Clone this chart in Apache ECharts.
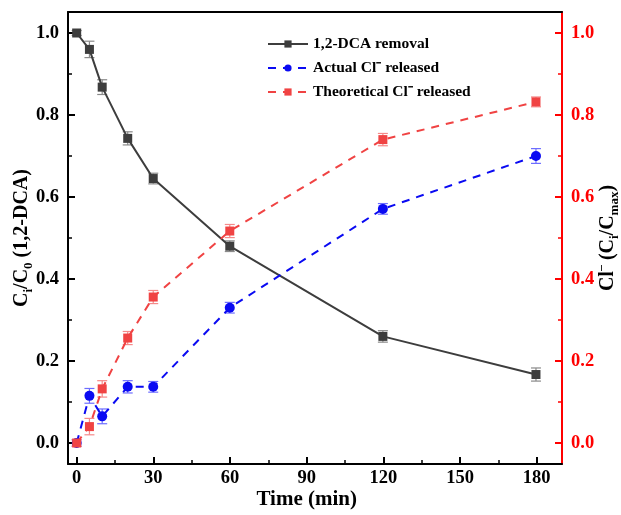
<!DOCTYPE html>
<html>
<head>
<meta charset="utf-8">
<script src="https://cdn.jsdelivr.net/npm/echarts@6/dist/echarts.min.js"></script>
<style>
html,body{margin:0;padding:0;background:#fff;}
#chart{width:621px;height:515px;}
</style>
</head>
<body>
<div id="chart"></div>
<script>
// ---- data ----
const times = [0, 5, 10, 20, 30, 60, 120, 180];
const dcaRemoval = [1.0, 0.96, 0.868, 0.743, 0.645, 0.48, 0.26, 0.167];
const dcaErr = [0.006, 0.02, 0.018, 0.016, 0.013, 0.013, 0.014, 0.016];
const actualCl = [0.0, 0.115, 0.065, 0.137, 0.137, 0.33, 0.571, 0.70];
const actualErr = [0.008, 0.018, 0.018, 0.015, 0.013, 0.013, 0.013, 0.018];
const theoCl = [0.0, 0.04, 0.132, 0.256, 0.356, 0.517, 0.74, 0.832];
const theoErr = [0.008, 0.02, 0.02, 0.016, 0.016, 0.016, 0.015, 0.012];
const xTicks = [0, 30, 60, 90, 120, 150, 180];
const yTicks = [0.0, 0.2, 0.4, 0.6, 0.8, 1.0];
const seriesNames = ['1,2-DCA removal', 'Actual Cl\u207B released', 'Theoretical Cl\u207B released'];

const FONT = 'Liberation Serif';
const RED_AXIS = '#ff0000';
const C_DCA = '#3d3d3d', C_BLUE = '#0a0af2', C_RED = '#f04343';

const chart = echarts.init(document.getElementById('chart'), null, {renderer: 'canvas'});

function pairs(vals) { return times.map((t, i) => [t, vals[i]]); }
function errPairs(vals, errs) { return times.map((t, i) => [t, vals[i], errs[i]]); }

function errBar(color) {
  return function (params, api) {
    const x = api.value(0), y = api.value(1), e = api.value(2);
    const top = api.coord([x, y + e]);
    const bot = api.coord([x, y - e]);
    const w = 5;
    const st = {stroke: color, lineWidth: 1.2};
    return {
      type: 'group',
      children: [
        {type: 'line', shape: {x1: top[0], y1: top[1], x2: bot[0], y2: bot[1]}, style: st},
        {type: 'line', shape: {x1: top[0] - w, y1: top[1], x2: top[0] + w, y2: top[1]}, style: st},
        {type: 'line', shape: {x1: bot[0] - w, y1: bot[1], x2: bot[0] + w, y2: bot[1]}, style: st}
      ]
    };
  };
}

const labelStyle = {fontFamily: FONT, fontWeight: 'bold', fontSize: 18.5, color: '#000'};
const xMin = -3.4, xMax = 190.2, yMin = -0.05, yMax = 1.05;

function frameAxis(gridIndex, min, max, position, color) {
  return {gridIndex: gridIndex, type: 'value', min: min, max: max, position: position,
    axisLine: {onZero: false, lineStyle: {color: color, width: 2}}, axisTick: {show: false},
    axisLabel: {show: false}, splitLine: {show: false}};
}
function hiddenAxis(gridIndex, min, max, position) {
  return {gridIndex: gridIndex, type: 'value', min: min, max: max, position: position, show: false,
    axisLine: {onZero: false}, splitLine: {show: false}};
}
function tickYAxis(position, color) {
  return {gridIndex: 1, type: 'value', min: yTicks[0], max: yTicks[yTicks.length - 1],
    interval: yTicks[1] - yTicks[0], position: position,
    axisLine: {show: false, onZero: false},
    axisTick: {inside: true, length: 7, lineStyle: {color: color, width: 2}},
    minorTick: {show: true, splitNumber: 2, length: 4, lineStyle: {color: color, width: 1.5}},
    axisLabel: Object.assign({}, labelStyle, {margin: 9, color: color, formatter: v => v.toFixed(1)}),
    splitLine: {show: false}};
}

const nameRich = {
  m: {fontFamily: FONT, fontWeight: 'bold', fontSize: 20, color: '#000', lineHeight: 26},
  s: {fontFamily: FONT, fontWeight: 'bold', fontSize: 13, color: '#000', lineHeight: 13, verticalAlign: 'bottom'},
  p: {fontFamily: FONT, fontWeight: 'bold', fontSize: 12, color: '#000', lineHeight: 12, verticalAlign: 'top'}
};

const yLeft = Object.assign(tickYAxis('left', '#000'), {
  name: '{m|C}{s|i}{m|/C}{s|0}{m| (1,2-DCA)}',
  nameLocation: 'middle', nameRotate: 90, nameGap: 33, nameMoveOverlap: false,
  nameTextStyle: {rich: nameRich}
});
const yRight = Object.assign(tickYAxis('right', RED_AXIS), {
  name: '{m|Cl}{p|\u2013}{m| (C}{s|i}{m|/C}{s|max}{m|)}',
  nameLocation: 'middle', nameRotate: 90, nameGap: 33, nameMoveOverlap: false,
  nameTextStyle: {rich: nameRich}
});

const gridCommon = {containLabel: false, outerBoundsMode: 'none'};

const option = {
  animation: false,
  backgroundColor: '#fff',
  grid: [
    Object.assign({left: 68, right: 59, top: 12, bottom: 51}, gridCommon),      // frame
    Object.assign({left: 68, right: 59, top: 33, bottom: 72}, gridCommon),      // data + y ticks
    Object.assign({left: 76.7, right: 84.3, top: 12, bottom: 51}, gridCommon)   // x ticks
  ],
  legend: {
    data: seriesNames,
    orient: 'vertical',
    left: 262,
    top: 31,
    itemWidth: 40,
    itemHeight: 9,
    itemGap: 8,
    textStyle: {fontFamily: FONT, fontWeight: 'bold', fontSize: 15.5, color: '#000'}
  },
  xAxis: [
    frameAxis(0, xMin, xMax, 'bottom', '#000'),
    frameAxis(0, xMin, xMax, 'top', '#000'),
    hiddenAxis(1, xMin, xMax, 'bottom'),
    {gridIndex: 2, type: 'value', min: xTicks[0], max: xTicks[xTicks.length - 1],
     interval: xTicks[1] - xTicks[0], position: 'bottom',
     axisLine: {show: false, onZero: false},
     axisTick: {inside: true, length: 7, lineStyle: {color: '#000', width: 2}},
     minorTick: {show: true, splitNumber: 2, length: 4, lineStyle: {color: '#000', width: 1.5}},
     axisLabel: Object.assign({margin: 5}, labelStyle),
     splitLine: {show: false},
     name: 'Time (min)', nameLocation: 'middle', nameGap: 25, nameMoveOverlap: false,
     nameTextStyle: {fontFamily: FONT, fontWeight: 'bold', fontSize: 21, color: '#000'}}
  ],
  yAxis: [
    frameAxis(0, yMin, yMax, 'left', '#000'),
    frameAxis(0, yMin, yMax, 'right', RED_AXIS),
    yLeft,
    yRight,
    hiddenAxis(2, yMin, yMax, 'left')
  ],
  series: [
    {type: 'custom', name: 'errDca', xAxisIndex: 2, yAxisIndex: 2, z: 1, silent: true,
     renderItem: errBar('#8a8a8a'), data: errPairs(dcaRemoval, dcaErr), clip: false},
    {type: 'custom', name: 'errActual', xAxisIndex: 2, yAxisIndex: 3, z: 1, silent: true,
     renderItem: errBar('#6d6dff'), data: errPairs(actualCl, actualErr), clip: false},
    {type: 'custom', name: 'errTheo', xAxisIndex: 2, yAxisIndex: 3, z: 1, silent: true,
     renderItem: errBar('#f58a8a'), data: errPairs(theoCl, theoErr), clip: false},
    {type: 'line', name: seriesNames[0], xAxisIndex: 2, yAxisIndex: 2, z: 3, clip: false,
     data: pairs(dcaRemoval), symbol: 'rect', symbolSize: 9,
     lineStyle: {color: C_DCA, width: 2}, itemStyle: {color: C_DCA}},
    {type: 'line', name: seriesNames[1], xAxisIndex: 2, yAxisIndex: 3, z: 3, clip: false,
     data: pairs(actualCl), symbol: 'circle', symbolSize: 10,
     lineStyle: {color: C_BLUE, width: 2, type: [8, 7]}, itemStyle: {color: C_BLUE}},
    {type: 'line', name: seriesNames[2], xAxisIndex: 2, yAxisIndex: 3, z: 3, clip: false,
     data: pairs(theoCl), symbol: 'rect', symbolSize: 9,
     lineStyle: {color: C_RED, width: 2, type: [8, 7]}, itemStyle: {color: C_RED}}
  ]
};
chart.setOption(option);
</script>
</body>
</html>
